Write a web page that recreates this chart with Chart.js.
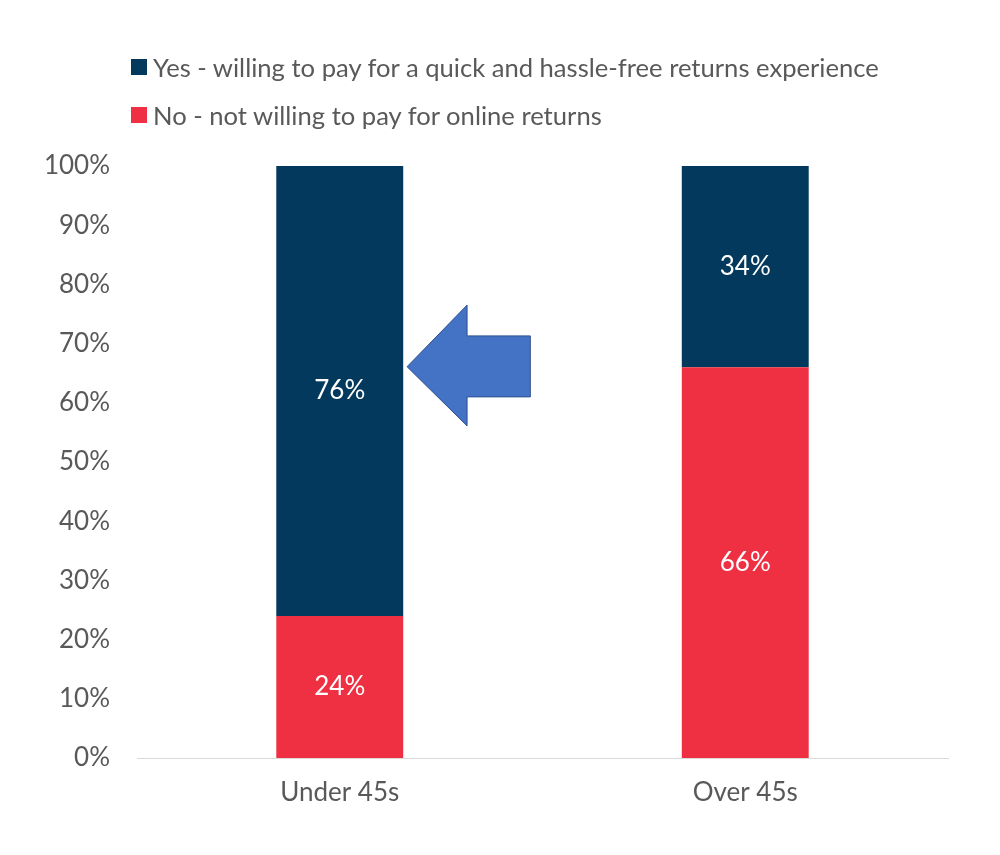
<!DOCTYPE html>
<html lang="en">
<head>
  <meta charset="UTF-8" />
  <title>Willing to pay for returns</title>
  <script src="https://cdn.jsdelivr.net/npm/chart.js"></script>
  <style>
    html, body { margin: 0; padding: 0; background: #fff; }
    #wrap { position: relative; width: 1000px; height: 855px; }
    #legend {
      position: absolute; left: 131px; top: 43px;
      font-family: Lato, sans-serif; font-size: 25.6px; color: #595959;
    }
    .item { display: flex; align-items: center; height: 48px; }
    .box { width: 16px; height: 16px; margin-right: 6px; }
  </style>
</head>
<body>
  <div id="wrap">
    <div id="legend"></div>
    <canvas id="grafico" width="1000" height="855"></canvas>
  </div>

  <script>
    // Dados
    const categories = ['Under 45s', 'Over 45s'];
    const yesValues = [76, 34];
    const noValues = [24, 66];
    const yTicks = [0, 10, 20, 30, 40, 50, 60, 70, 80, 90, 100];

    const NAVY = '#03395C';
    const RED = '#EE3042';
    const GREY = '#595959';
    const FONT = 'Lato, sans-serif';

    // seta decorativa (em unidades do gráfico: x = índice da categoria, y = %)
    const arrowShape = { tipX: 0.166, headX: 0.314, tailX: 0.47, tipY: 66.1, headTop: 76.5, headBottom: 56.1, shaftTop: 71.3, shaftBottom: 61.0 };

    // legenda em HTML
    const legendEl = document.getElementById('legend');
    [['Yes - willing to pay for a quick and hassle-free returns experience', NAVY],
     ['No - not willing to pay for online returns', RED]].forEach(([txt, cor]) => {
      const d = document.createElement('div');
      d.className = 'item';
      d.innerHTML = '<span class="box" style="background:' + cor + '"></span><span>' + txt + '</span>';
      legendEl.appendChild(d);
    });

    const rotulos = {
      id: 'rotulos',
      afterDatasetsDraw(chart) {
        const ctx = chart.ctx;
        ctx.save();
        ctx.font = '26px ' + FONT;
        ctx.fillStyle = '#fff';
        ctx.textAlign = 'center';
        ctx.textBaseline = 'middle';
        chart.data.datasets.forEach((ds, i) => {
          chart.getDatasetMeta(i).data.forEach((bar, j) => {
            const p = bar.getProps(['x', 'y', 'base'], true);
            ctx.fillText(ds.data[j] + '%', p.x, (p.y + p.base) / 2);
          });
        });
        ctx.restore();
      }
    };

    const seta = {
      id: 'seta',
      afterDatasetsDraw(chart) {
        const x = chart.scales.x, y = chart.scales.y, a = arrowShape;
        const px = v => x.getPixelForValue(v), py = v => y.getPixelForValue(v);
        const ctx = chart.ctx;
        ctx.save();
        ctx.beginPath();
        ctx.moveTo(px(a.tipX), py(a.tipY));
        ctx.lineTo(px(a.headX), py(a.headTop));
        ctx.lineTo(px(a.headX), py(a.shaftTop));
        ctx.lineTo(px(a.tailX), py(a.shaftTop));
        ctx.lineTo(px(a.tailX), py(a.shaftBottom));
        ctx.lineTo(px(a.headX), py(a.shaftBottom));
        ctx.lineTo(px(a.headX), py(a.headBottom));
        ctx.closePath();
        ctx.fillStyle = '#4472C4';
        ctx.fill();
        ctx.strokeStyle = '#2F528F';
        ctx.lineWidth = 1;
        ctx.stroke();
        ctx.restore();
      }
    };

    new Chart(document.getElementById('grafico'), {
      type: 'bar',
      data: {
        labels: categories,
        datasets: [
          { label: 'No - not willing to pay for online returns', data: noValues, backgroundColor: RED },
          { label: 'Yes - willing to pay for a quick and hassle-free returns experience', data: yesValues, backgroundColor: NAVY }
        ]
      },
      options: {
        responsive: false,
        animation: false,
        layout: { padding: { top: 166, right: 52, bottom: 0, left: 0 } },
        datasets: { bar: { barPercentage: 0.313, categoryPercentage: 1 } },
        plugins: { legend: { display: false }, tooltip: { enabled: false } },
        scales: {
          x: {
            stacked: true,
            grid: { display: false },
            border: { display: true, color: '#D9D9D9', width: 1 },
            ticks: { color: GREY, font: { family: FONT, size: 26 }, padding: 11 },
            afterFit(s) { s.height = 97; }
          },
          y: {
            stacked: true,
            min: 0, max: 100,
            afterBuildTicks(s) { s.ticks = yTicks.map(v => ({ value: v })); },
            grid: { display: false, drawTicks: false },
            border: { display: false },
            ticks: { color: GREY, font: { family: FONT, size: 26 }, padding: 27, callback: v => v + '%' },
            afterFit(s) { s.width = 137; }
          }
        }
      },
      plugins: [rotulos, seta]
    });
  </script>
</body>
</html>
